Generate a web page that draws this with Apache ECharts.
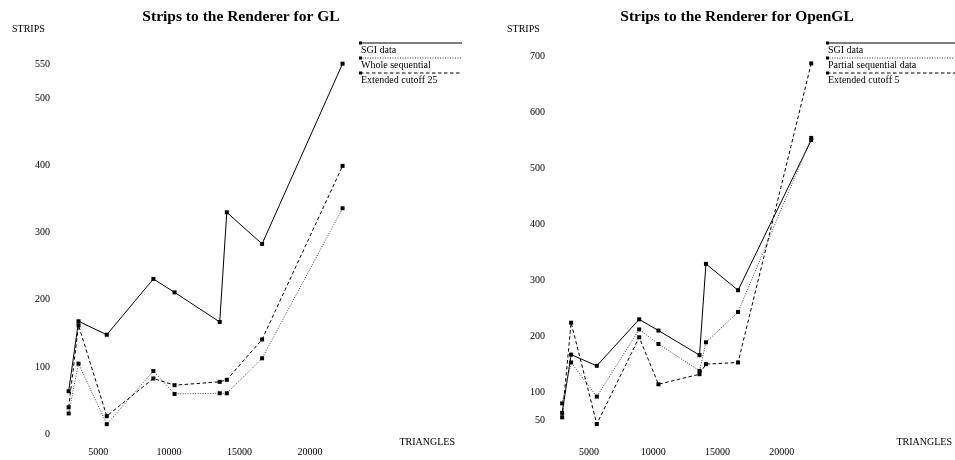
<!DOCTYPE html>
<html>
<head>
<meta charset="utf-8">
<script src="https://cdn.jsdelivr.net/npm/echarts@6/dist/echarts.min.js"></script>
<style>
  html, body { margin: 0; padding: 0; background: #fff; }
  #chart { width: 955px; height: 460px; }
</style>
</head>
<body>
<div id="chart"></div>
<script>
// Triangle counts of the test models (shared x values of both panels)
const triangles = [2900, 3600, 5600, 8900, 10400, 13600, 14100, 16600, 22300];

// Strips produced for the GL renderer
const glSgi = [64, 168, 148, 231, 211, 167, 330, 283, 551];
const glWholeSequential = [31, 105, 15, 94, 60, 61, 61, 113, 336];
const glExtendedCutoff25 = [40, 162, 27, 83, 73, 78, 81, 141, 399];

// Strips produced for the OpenGL renderer
const oglSgi = [64, 168, 148, 231, 211, 167, 330, 283, 551];
const oglPartialSequential = [81, 154, 93, 213, 187, 139, 190, 244, 555];
const oglExtendedCutoff5 = [56, 225, 44, 199, 115, 133, 151, 154, 688];

// Tick labels
const xTicks = [5000, 10000, 15000, 20000];
const glYTicks = [0, 100, 200, 300, 400, 500, 550];
const oglYTicks = [50, 100, 200, 300, 400, 500, 600, 700];

// Titles and legend names
const glTitle = 'Strips to the Renderer for GL';
const oglTitle = 'Strips to the Renderer for OpenGL';
const glNames = ['SGI data', 'Whole sequential', 'Extended cutoff 25'];
const oglNames = ['SGI data', 'Partial sequential data', 'Extended cutoff 5'];

const SERIF = '"Liberation Serif", "DejaVu Serif", serif';
const pairs = ys => triangles.map((x, i) => [x, ys[i]]);

const lineStyles = [
  { color: '#000', width: 1, type: 'solid' },
  { color: '#444', width: 1, type: [1, 1.5] },
  { color: '#000', width: 1, type: [3.5, 2.5] }
];

function makeSeries(names, data, axisIdx) {
  return data.map((ys, k) => ({
    name: names[k],
    type: 'line',
    xAxisIndex: axisIdx,
    yAxisIndex: axisIdx,
    data: pairs(ys),
    symbol: 'rect',
    symbolSize: 4,
    showSymbol: true,
    clip: false,
    itemStyle: { color: '#000' },
    lineStyle: lineStyles[k],
    emphasis: { disabled: true },
    animation: false
  }));
}

function xAxis(grid) {
  return {
    type: 'value', gridIndex: grid, min: 2500, max: 22500,
    axisLine: { show: false }, axisTick: { show: false }, splitLine: { show: false },
    axisLabel: {
      customValues: xTicks, margin: grid === 0 ? 13 : 21,
      formatter: v => String(v),
      color: '#000', fontFamily: SERIF, fontSize: 10
    }
  };
}

function yAxis(grid, min, max, ticks, margin) {
  return {
    type: 'value', gridIndex: grid, min: min, max: max,
    axisLine: { show: false }, axisTick: { show: false }, splitLine: { show: false },
    axisLabel: {
      customValues: ticks, margin: margin,
      formatter: v => String(v),
      color: '#000', fontFamily: SERIF, fontSize: 10
    }
  };
}

// Legend drawn as a line with a marker at its left end and the name underneath
function legendBlock(x0, x1, y0, names) {
  const els = [];
  names.forEach((name, k) => {
    const y = y0 + k * 15;
    els.push({
      type: 'line', silent: true,
      shape: { x1: x0, y1: y, x2: x1, y2: y },
      style: { stroke: k === 1 ? '#333' : '#000', lineWidth: 1,
               lineDash: k === 0 ? null : lineStyles[k].type }
    });
    els.push({
      type: 'rect', silent: true,
      shape: { x: x0 - 1, y: y - 1.5, width: 3, height: 3 },
      style: { fill: '#000' }
    });
    els.push({
      type: 'text', silent: true, x: x0 + 1, y: y + 7,
      style: { text: name, fill: '#000', font: '10px ' + SERIF, verticalAlign: 'middle' }
    });
  });
  return els;
}

function label(text, x, y, align) {
  return {
    type: 'text', silent: true, x: x, y: y,
    style: { text: text, fill: '#000', font: '10px ' + SERIF, align: align, verticalAlign: 'middle' }
  };
}

const chart = echarts.init(document.getElementById('chart'), null, { renderer: 'canvas' });

chart.setOption({
  backgroundColor: '#fff',
  animation: false,
  title: [
    { text: glTitle, left: 236, top: 4, textAlign: 'center',
      textStyle: { fontFamily: SERIF, fontSize: 15.5, fontWeight: 'bold', color: '#000' } },
    { text: oglTitle, left: 732, top: 4, textAlign: 'center',
      textStyle: { fontFamily: SERIF, fontSize: 15.5, fontWeight: 'bold', color: '#000' } }
  ],
  grid: [
    { left: 63, top: 57.6, width: 282.4, height: 376.7 },
    { left: 557, top: 51.1, width: 256.8, height: 375.2 }
  ],
  xAxis: [xAxis(0), xAxis(1)],
  yAxis: [
    yAxis(0, 0, 560, glYTicks, 13),
    yAxis(1, 40, 710, oglYTicks, 12)
  ],
  series: [
    ...makeSeries(glNames, [glSgi, glWholeSequential, glExtendedCutoff25], 0),
    ...makeSeries(oglNames, [oglSgi, oglPartialSequential, oglExtendedCutoff5], 1)
  ],
  graphic: [
    label('STRIPS', 12, 29, 'left'),
    label('STRIPS', 507, 29, 'left'),
    label('TRIANGLES', 455, 442, 'right'),
    label('TRIANGLES', 952, 442, 'right'),
    ...legendBlock(360, 462, 43, glNames),
    ...legendBlock(827, 955, 43, oglNames)
  ]
});
</script>
</body>
</html>
